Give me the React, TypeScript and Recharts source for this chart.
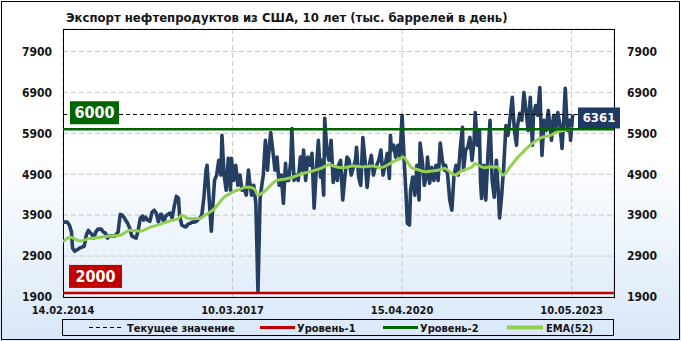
import React from 'react';
import { LineChart, Line, XAxis, YAxis, CartesianGrid, ReferenceLine, ReferenceArea } from 'recharts';

const TITLE = 'Экспорт нефтепродуктов из США, 10 лет (тыс. баррелей в день)';
const xTicks = [0, 160, 320, 480];
const xLabels = ['14.02.2014', '10.03.2017', '15.04.2020', '10.05.2023'];
const yTicks = [1900, 2900, 3900, 4900, 5900, 6900, 7900];
const level1 = 2000;
const level2 = 6000;
const currentValue = 6361;

// week index since 14.02.2014
const exportWeeks = [
  0, 2, 4, 6, 8, 9, 11, 13, 16, 18, 20, 22, 24, 25, 27, 29, 31, 33, 36, 38, 40, 42, 43, 45, 47,
  49, 52, 54, 56, 58, 59, 61, 63, 65, 67, 69, 71, 73, 75, 76, 78, 80, 82, 84, 86, 88, 90, 92, 93, 95,
  97, 99, 101, 103, 105, 107, 109, 110, 112, 114, 116, 118,
  120, 122, 124, 126, 127, 129, 131, 133, 135, 136, 138, 140, 142, 143, 145, 147, 149, 150, 152, 154,
  156, 158, 159, 161, 163, 165, 167, 169, 171, 173, 175, 176, 178, 180, 182, 184, 186, 187, 189, 191,
  193, 194, 196, 198, 200, 202, 204, 206, 208, 210, 211, 213, 215, 216, 218, 220, 222, 224, 226, 227,
  229, 231, 233, 235, 237, 239, 241, 243, 244, 246, 247, 249, 251, 253, 255, 257, 259, 260, 262, 264,
  266, 268, 270, 272, 274, 276, 277, 279, 281, 283, 285, 287, 289, 291, 293, 294, 296, 298, 300, 302,
  304, 306, 308, 309, 310, 312, 314, 316, 318, 320, 322, 324, 325,
  327, 328, 330, 332, 334, 336, 337, 339, 341, 343, 344, 346, 348, 350, 352, 354, 356, 358, 360, 361,
  363, 365, 367, 369, 371, 373, 375, 377, 378, 380, 382, 384, 386, 388, 389, 391, 393, 394, 395, 397,
  399, 401, 403, 405,
  407, 409, 411, 412, 414, 416, 418, 420, 422, 424, 426, 428, 429, 431, 433, 435, 437, 439, 441, 443,
  444, 446, 448, 450, 452, 454, 456, 458, 460, 461, 463, 465, 467, 469, 471, 473, 474, 476, 478, 479,
  481,
];

const exportValues = [
  3730, 3730, 3730, 3660, 3490, 3100, 3020, 3050, 3100, 3120, 3140, 3410, 3530, 3490, 3440, 3340, 3490, 3560, 3560, 3490, 3460, 3340, 3390, 3390, 3390,
  3390, 3490, 3920, 3900, 3830, 3780, 3700, 3580, 3390, 3360, 3340, 3530, 3830, 3880, 3780, 3850, 3780, 3750, 3970, 4020, 3950, 3730, 3920, 3920, 3730,
  3880, 3920, 3950, 3830, 4120, 4360, 4310, 3900, 3660, 3630, 3610, 3680,
  3700, 3730, 3730, 3750, 3780, 3830, 3900, 4340, 5000, 5120, 4270, 3510, 4360, 4750, 4880, 5240, 4880, 5850, 4880, 4510,
  5290, 4510, 5290, 4750, 5120, 4630, 4880, 4510, 4560, 4390, 5000, 4750, 4390, 4630, 4190, 2020, 4300, 4510, 4880, 5730,
  5000, 5360, 5920, 5490, 5000, 5320, 4630, 4880, 4190, 5170, 4750, 4750, 5240, 6020, 4750, 4880, 4750, 5320, 5000, 5490,
  4750, 5320, 5120, 5410, 4070, 5000, 5730, 4830, 5240, 4390, 6270, 5490, 5240, 5730, 4700, 5070, 4750, 5120, 5240, 4270,
  4830, 5320, 5240, 4880, 5070, 5240, 5560, 4830, 4630, 5800, 5240, 4580, 5120, 5360, 4880, 5000, 5120, 5240, 5490, 4880,
  5120, 5410, 4800, 5850, 5490, 5610, 5320, 5610, 5320, 6340, 5240, 4270, 3700,
  3660, 4510, 4830, 4390, 5120, 4270, 5660, 5240, 4630, 4880, 5320, 4680, 5070, 4750, 5120, 4750, 5660, 5240, 5000, 5120,
  4880, 4270, 4020, 4880, 5120, 4880, 5560, 6050, 5000, 5490, 5560, 5800, 5240, 5730, 6410, 5610, 5980, 4750, 4310, 5120,
  4270, 5360, 6220, 4750,
  4340, 5240, 4390, 3830, 4390, 5120, 6090, 5850, 6290, 6780, 5970, 5610, 6090, 6390, 6220, 6900, 6460, 5970, 6780, 5610,
  6340, 6580, 6340, 7020, 5360, 6220, 5970, 6460, 5970, 5730, 6340, 5970, 6410, 6090, 5530, 6460, 7000, 5970, 6220, 5730,
  6361,
];

const emaWeeks = [
  0, 7, 16, 25, 35, 44, 54, 63, 73, 82, 92, 101, 109, 112, 118, 122, 129, 134, 139, 143,
  148, 153, 158, 162, 167, 172, 176, 181, 184, 188, 193, 197, 202, 207, 211, 216, 222, 228, 233, 238,
  243, 252, 255, 264, 274, 283, 292, 299, 306, 311, 318, 321, 325, 329, 335, 342, 348, 354, 360, 367,
  370, 375, 379, 386, 389, 392, 398, 403, 410, 415, 422, 428, 434, 441, 447, 453, 460, 466, 472, 481,
];
const emaValues = [
  3250, 3360, 3270, 3330, 3360, 3390, 3410, 3530, 3510, 3600, 3680, 3760, 3820, 3900, 3820, 3820, 3820, 3900, 3980, 4060,
  4220, 4360, 4430, 4490, 4530, 4580, 4580, 4530, 4390, 4440, 4550, 4660, 4750, 4770, 4790, 4820, 4880, 4930, 4960, 5000,
  5040, 5140, 5100, 5060, 5100, 5080, 5100, 5060, 5120, 5200, 5280, 5320, 5200, 5060, 5010, 4960, 4980, 5000, 5040, 4920,
  4880, 4960, 5010, 5080, 5160, 5120, 5060, 5080, 5080, 4880, 5080, 5280, 5440, 5610, 5730, 5810, 5850, 5930, 5970, 6010,
];

const mainData = exportWeeks.map((w, i) => ({ w, v: exportValues[i] }));
const emaData = emaWeeks.map((w, i) => ({ w, e: emaValues[i] }));

const FONT = "'DejaVu Sans Condensed', 'DejaVu Sans', sans-serif";
const TEXT = '#151515';

const BoxLabel = (props: any) => {
  const { viewBox, text, fill, dx, dy, w, h, fs, align } = props;
  if (!viewBox) return null;
  const left = align === 'right' ? viewBox.x + viewBox.width + dx : viewBox.x + dx;
  const top = viewBox.y + dy;
  return (
    <g>
      <rect x={left} y={top} width={w} height={h} fill={fill} />
      <text
        x={left + w / 2}
        y={top + h / 2}
        textAnchor="middle"
        dominantBaseline="central"
        fill="#fff"
        fontFamily={FONT}
        fontWeight="bold"
        fontSize={fs}
      >
        {text}
      </text>
    </g>
  );
};

const legendItems = [
  { label: 'Текущее значение', color: '#000', dash: '4 3', width: 1, x1: 89, x2: 122, tx: 127 },
  { label: 'Уровень-1', color: '#C00000', dash: undefined, width: 3, x1: 260, x2: 295, tx: 297 },
  { label: 'Уровень-2', color: '#006600', dash: undefined, width: 3, x1: 383, x2: 418, tx: 420 },
  { label: 'EMA(52)', color: '#92D050', dash: undefined, width: 4, x1: 507, x2: 543, tx: 546 },
];

export default function App() {
  return (
    <div
      style={{
        position: 'absolute',
        left: 0,
        top: 0,
        width: 681,
        height: 341,
        background: 'linear-gradient(to bottom, #ffffff 0%, #ffffff 45%, #d8e7f8 100%)',
        fontFamily: FONT,
        overflow: 'hidden',
      }}
    >
      <div
        style={{
          position: 'absolute',
          left: 1,
          top: 1,
          width: 679,
          height: 339,
          border: '1px solid #000',
          boxSizing: 'border-box',
        }}
      />
      <div
        style={{
          position: 'absolute',
          left: 66,
          top: 10,
          fontSize: 13,
          lineHeight: '15px',
          fontWeight: 'bold',
          color: TEXT,
          whiteSpace: 'nowrap',
        }}
      >
        {TITLE}
      </div>
      <LineChart
        width={681}
        height={341}
        margin={{ top: 29, right: 0, bottom: 0, left: 0 }}
        style={{ position: 'absolute', left: 0, top: 0 }}
      >
        <CartesianGrid stroke="#c8c8c8" strokeDasharray="5 3" />
        <XAxis
          type="number"
          dataKey="w"
          domain={[0, 520]}
          ticks={xTicks}
          tickFormatter={(v: number) => xLabels[xTicks.indexOf(v)] ?? ''}
          height={44}
          axisLine={false}
          tickLine={false}
          tickSize={0}
          tickMargin={9}
          interval={0}
          allowDataOverflow
          tick={{ fill: TEXT, fontSize: 11, fontWeight: 'bold', fontFamily: FONT }}
        />
        <YAxis
          type="number"
          domain={[1900, 8450]}
          ticks={yTicks}
          width={63}
          axisLine={false}
          tickLine={false}
          tickSize={0}
          tickMargin={11}
          interval={0}
          allowDataOverflow
          tick={{ fill: TEXT, fontSize: 12, fontWeight: 'bold', fontFamily: FONT }}
        />
        <YAxis
          yAxisId="right"
          orientation="right"
          type="number"
          domain={[1900, 8450]}
          ticks={yTicks}
          width={67}
          axisLine={false}
          tickLine={false}
          tickSize={0}
          tickMargin={13}
          interval={0}
          allowDataOverflow
          tick={{ fill: TEXT, fontSize: 12, fontWeight: 'bold', fontFamily: FONT, textAnchor: 'start' }}
        />
        <ReferenceArea
          x1={0}
          x2={520}
          y1={1900}
          y2={8450}
          fill="none"
          fillOpacity={0}
          stroke="#000"
          strokeWidth={1}
          shapeRendering="crispEdges"
          ifOverflow="visible"
        />
        <Line
          data={mainData}
          dataKey="v"
          type="linear"
          stroke="#243f62"
          strokeWidth={3.6}
          strokeLinejoin="round"
          dot={false}
          activeDot={false}
          isAnimationActive={false}
        />
        <Line
          data={emaData}
          dataKey="e"
          type="monotone"
          stroke="#92D050"
          strokeWidth={3}
          dot={false}
          activeDot={false}
          isAnimationActive={false}
        />
        <ReferenceLine
          y={currentValue}
          stroke="#000"
          strokeWidth={1}
          strokeDasharray="4 3"
          label={
            <BoxLabel
              text={String(currentValue)}
              fill="#1f3864"
              align="right"
              dx={-36}
              dy={-7}
              w={42}
              h={21}
              fs={13}
            />
          }
        />
        <ReferenceLine
          y={level1}
          stroke="#C00000"
          strokeWidth={2.5}
          label={<BoxLabel text={String(level1)} fill="#C00000" dx={6} dy={-28} w={53} h={23} fs={16} />}
        />
        <ReferenceLine
          y={level2}
          stroke="#006600"
          strokeWidth={2.5}
          label={<BoxLabel text={String(level2)} fill="#006600" dx={7} dy={-28} w={49} h={23} fs={16} />}
        />
      </LineChart>
      <div
        style={{
          position: 'absolute',
          left: 62,
          top: 319,
          width: 552,
          height: 17,
          border: '1px solid #000',
          boxSizing: 'border-box',
        }}
      />
      <svg width={681} height={341} style={{ position: 'absolute', left: 0, top: 0, pointerEvents: 'none' }}>
        {legendItems.map((it) => (
          <g key={it.label}>
            <line
              x1={it.x1}
              x2={it.x2}
              y1={327.5}
              y2={327.5}
              stroke={it.color}
              strokeWidth={it.width}
              strokeDasharray={it.dash}
            />
            <text
              x={it.tx}
              y={328}
              dominantBaseline="central"
              fontFamily={FONT}
              fontSize={11}
              fontWeight="bold"
              fill={TEXT}
            >
              {it.label}
            </text>
          </g>
        ))}
      </svg>
    </div>
  );
}
